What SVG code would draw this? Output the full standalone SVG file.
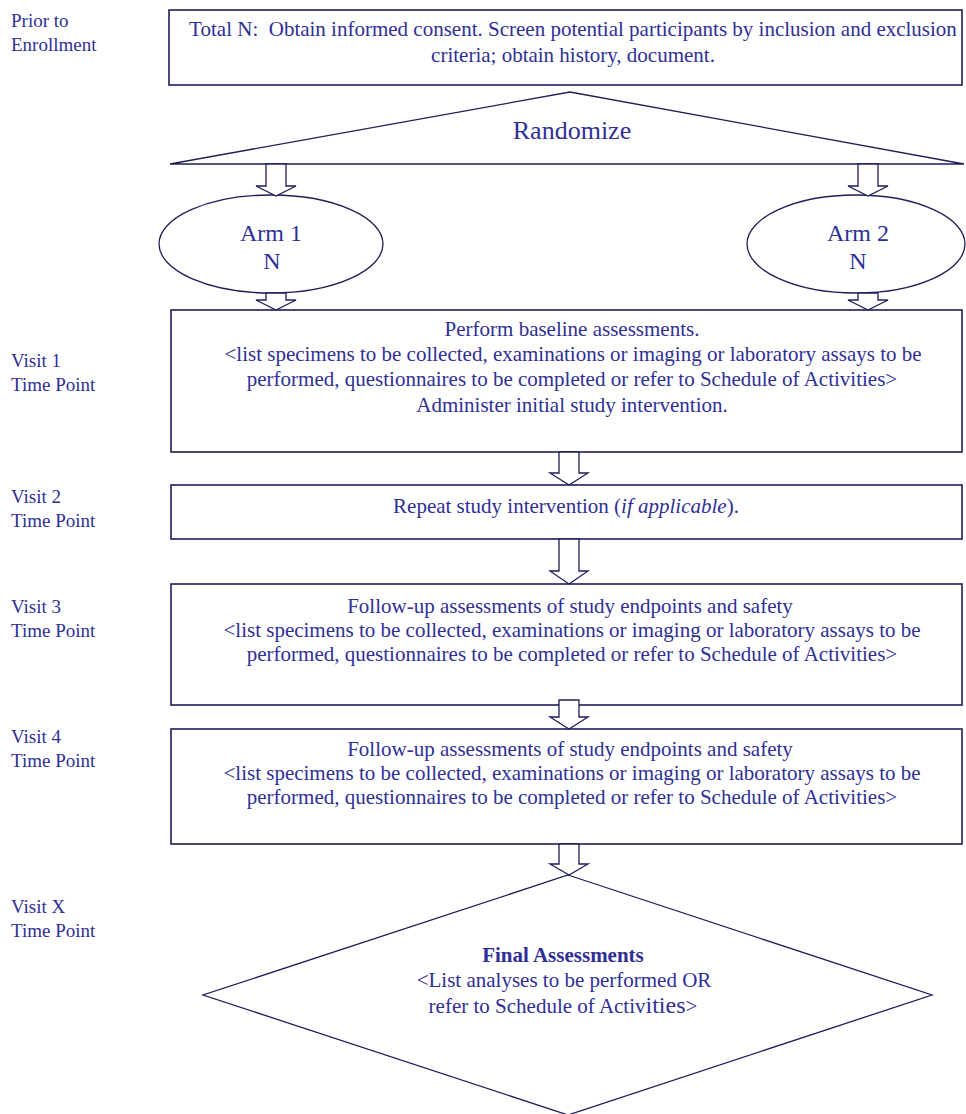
<svg xmlns="http://www.w3.org/2000/svg" width="966" height="1114" viewBox="0 0 966 1114">
  <defs>
    <style>
      .bg { fill: #ffffff; }
      .box { fill: #ffffff; stroke: #1e1e5a; stroke-width: 1.6; }
      .thin { fill: #ffffff; stroke: #1e1e5a; stroke-width: 1.3; }
      .arrow { fill: #ffffff; stroke: #1e1e5a; stroke-width: 1.3; stroke-linejoin: miter; }
      .txt { fill: #2f2f96; }
      .body { font-size: 21px; text-anchor: middle; }
      .label { font-size: 19px; }
      .arm { font-size: 24px; text-anchor: middle; }
      .rand { font-size: 26px; text-anchor: middle; }
      .bold { font-weight: bold; }
      .ital { font-style: italic; }
    </style>
  </defs>

  <rect class="bg" x="0" y="0" width="966" height="1114"/>

  <g font-family="'Liberation Serif', 'Times New Roman', 'DejaVu Serif', serif">

  <!-- time-point labels down the left margin -->
  <g id="labels" class="txt">
    <text class="label" x="11" y="27">Prior to</text>
    <text class="label" x="11" y="51">Enrollment</text>
    <text class="label" x="11" y="367">Visit 1</text>
    <text class="label" x="11" y="391">Time Point</text>
    <text class="label" x="11" y="503">Visit 2</text>
    <text class="label" x="11" y="527">Time Point</text>
    <text class="label" x="11" y="613">Visit 3</text>
    <text class="label" x="11" y="637">Time Point</text>
    <text class="label" x="11" y="743">Visit 4</text>
    <text class="label" x="11" y="767">Time Point</text>
    <text class="label" x="11" y="913">Visit X</text>
    <text class="label" x="11" y="937">Time Point</text>
  </g>

  <g id="screening">
    <rect class="box" x="169" y="10" width="793" height="75"/>
    <text class="txt body" x="573" y="36">Total N:&#160; Obtain informed consent. Screen potential participants by inclusion and exclusion</text>
    <text class="txt body" x="573" y="62">criteria; obtain history, document.</text>
  </g>

  <g id="randomize">
    <path class="thin" d="M170,164 L570,92 L964,164 Z"/>
    <text class="txt rand" x="572" y="139">Randomize</text>
  </g>

  <g id="arm1">
    <ellipse class="thin" cx="271" cy="244" rx="112" ry="49"/>
    <text class="txt arm" x="271" y="241">Arm 1</text>
    <text class="txt arm" x="272" y="269">N</text>
  </g>

  <g id="arm2">
    <ellipse class="thin" cx="856" cy="244" rx="109" ry="49"/>
    <text class="txt arm" x="858" y="241">Arm 2</text>
    <text class="txt arm" x="858" y="269">N</text>
  </g>

  <g id="visit1">
    <rect class="box" x="171" y="310" width="791" height="142"/>
    <text class="txt body" x="572" y="336">Perform baseline assessments.</text>
    <text class="txt body" x="573" y="361">&lt;list specimens to be collected, examinations or imaging or laboratory assays to be</text>
    <text class="txt body" x="572" y="386">performed, questionnaires to be completed or refer to Schedule of Activities&gt;</text>
    <text class="txt body" x="572" y="412">Administer initial study intervention.</text>
  </g>

  <g id="visit2">
    <rect class="box" x="171" y="485" width="791" height="54"/>
    <text class="txt body" x="566" y="513">Repeat study intervention (<tspan class="ital">if applicable</tspan>).</text>
  </g>

  <g id="visit3">
    <rect class="box" x="171" y="584" width="791" height="121"/>
    <text class="txt body" x="570" y="613">Follow-up assessments of study endpoints and safety</text>
    <text class="txt body" x="572" y="637">&lt;list specimens to be collected, examinations or imaging or laboratory assays to be</text>
    <text class="txt body" x="572" y="661">performed, questionnaires to be completed or refer to Schedule of Activities&gt;</text>
  </g>

  <g id="visit4">
    <rect class="box" x="171" y="729" width="791" height="115"/>
    <text class="txt body" x="570" y="756">Follow-up assessments of study endpoints and safety</text>
    <text class="txt body" x="572" y="780">&lt;list specimens to be collected, examinations or imaging or laboratory assays to be</text>
    <text class="txt body" x="572" y="804">performed, questionnaires to be completed or refer to Schedule of Activities&gt;</text>
  </g>

  <g id="final">
    <path class="thin" d="M568,875 L932,995 L568,1115 L203,995 Z"/>
    <text class="txt body bold" x="563" y="962">Final Assessments</text>
    <text class="txt body" x="564" y="987">&lt;List analyses to be performed OR</text>
    <text class="txt body" x="563" y="1013">refer to Schedule of Activ<tspan font-size="24">ities</tspan>&gt;</text>
  </g>

  </g>

  <!-- hollow block arrows between the stages -->
  <g id="connectors">
    <path class="arrow" d="M266,164 H286 V186 H296 L276,196 L256,186 H266 Z"/>
    <path class="arrow" d="M858,164 H878 V186 H888 L868,196 L848,186 H858 Z"/>
    <path class="arrow" d="M266,293 H286 V300 H296 L276,310 L256,300 H266 Z"/>
    <path class="arrow" d="M858,293 H878 V300 H888 L868,310 L848,300 H858 Z"/>
    <path class="arrow" d="M559,452 H579 V473 H588 L569,485 L550,473 H559 Z"/>
    <path class="arrow" d="M559,539 H579 V571 H588 L569,584 L550,571 H559 Z"/>
    <path class="arrow" d="M559,700 H579 V717 H588 L569,729 L550,717 H559 Z"/>
    <path class="arrow" d="M559,844 H579 V864 H588 L569,875 L550,864 H559 Z"/>
  </g>
</svg>
